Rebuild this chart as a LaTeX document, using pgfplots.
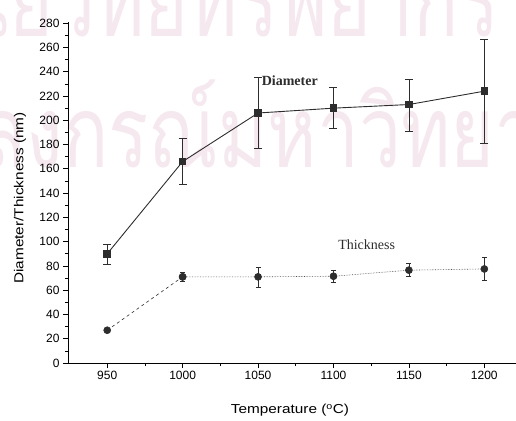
\documentclass[border=0pt]{standalone}
\usepackage{fontspec}
\setmainfont{Liberation Serif}
\newfontfamily\sans{Liberation Sans}
\newfontfamily\sanswide{Liberation Sans}[FakeStretch=1.18]
\newfontfamily\thaifont[Script=Thai, FakeStretch=0.75]{Loma}
\usepackage{pgfplots}
\pgfplotsset{compat=1.18}
\definecolor{wm}{RGB}{245,232,239}
\definecolor{ln}{RGB}{45,45,45}
\begin{document}
\begin{tikzpicture}
\node[anchor=base west, text=wm, inner sep=0, font=\thaifont\fontsize{100}{100}\selectfont] at (-158pt,326pt) {ศูนย์วิทยทรัพยากร};
\node[anchor=base west, text=wm, inner sep=0, font=\thaifont\fontsize{100}{100}\selectfont] at (-225pt,195pt) {จุฬาลงกรณ์มหาวิทยาลัย};
\begin{axis}[
  scale only axis, width=448pt, height=341pt,
  xmin=924, xmax=1221, ymin=0, ymax=281,
  axis lines*=left,
  axis line style={line width=0.8pt, black},
  xtick={950,1000,...,1200}, minor x tick num=1,
  ytick={0,20,...,280}, minor y tick num=1,
  tick align=outside, major tick length=5pt, minor tick length=3pt,
  tick style={line width=0.7pt, black},
  ticklabel style={font=\sans\fontsize{12}{12}\selectfont, /pgf/number format/assume math mode=true, /pgf/number format/1000 sep={}},
  xlabel={Temperature (\textsuperscript{o}C)},
  ylabel={Diameter/Thickness (nm)},
  label style={font=\sanswide\fontsize{13}{13}\selectfont},
  xlabel style={at={([yshift=-47pt]axis description cs:0.4955,0)}, anchor=center},
  ylabel style={at={([xshift=-48pt]axis description cs:0,0.484)}, anchor=center},
  clip=false,
]
\coordinate (SW) at (rel axis cs:0,0);
\coordinate (NE) at (rel axis cs:1,1);
\addplot[ln, line width=0.9pt, mark=square*, mark size=3.3pt, mark options={solid, fill=ln},
  error bars/.cd, y dir=both, y explicit,
  error bar style={line width=0.8pt, ln},
  error mark options={rotate=90, mark size=4pt, line width=0.8pt, ln}]
coordinates {
(950,90) += (0,8) -= (0,9)
(1000,166) += (0,19) -= (0,19)
(1050,206) += (0,29) -= (0,29)
(1100,210) += (0,17) -= (0,17)
(1150,213) += (0,21) -= (0,22)
(1200,224) += (0,43) -= (0,43)
};
\addplot[ln, line width=0.6pt, dashed, mark=*, mark size=3.5pt, mark options={solid, fill=ln}]
coordinates {(950,27) (1000,71)};
\addplot[ln!85, line width=0.6pt, densely dotted, mark=*, mark size=3.5pt, mark options={solid, fill=ln, draw=ln},
  error bars/.cd, y dir=both, y explicit,
  error bar style={line width=0.6pt, ln, solid},
  error mark options={rotate=90, mark size=2.5pt, line width=0.6pt, ln, solid}]
coordinates {
(1000,71) += (0,4) -= (0,4)
(1050,71) += (0,8) -= (0,9)
(1100,71.5) += (0,5) -= (0,5)
(1150,76.5) += (0,5.5) -= (0,5)
(1200,77.5) += (0,9.5) -= (0,9.5)
};
\node[font=\bfseries\fontsize{14}{14}\selectfont, text=ln] at (axis cs:1071,233) {Diameter};
\node[font=\fontsize{14}{14}\selectfont, text=ln] at (axis cs:1122,97.7) {Thickness};
\end{axis}
\pgfresetboundingbox
\path ([shift={(-68pt,-57pt)}]SW) rectangle ([shift={(0pt,22pt)}]NE);
\end{tikzpicture}
\end{document}
